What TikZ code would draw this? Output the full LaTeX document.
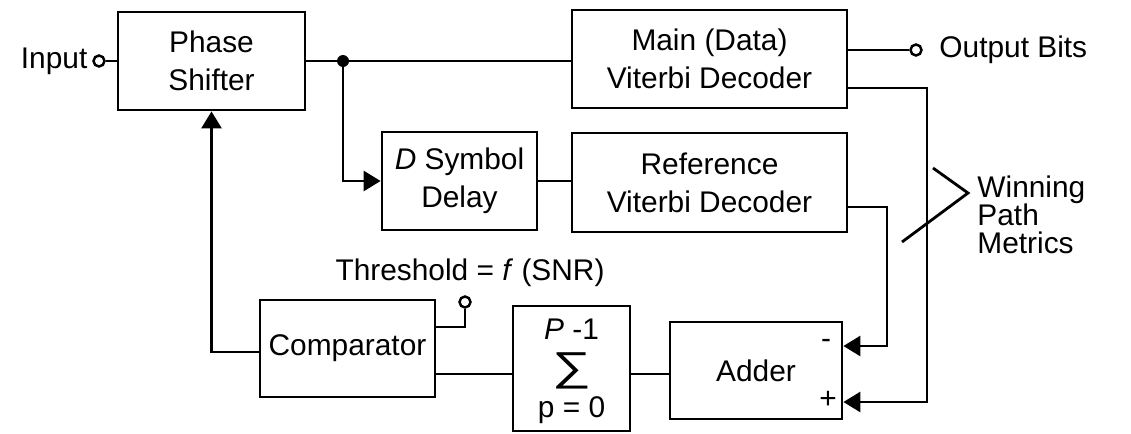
\documentclass[tikz,border=0pt]{standalone}
\usepackage{fontspec}
\usepackage{graphicx}
\setmainfont{Liberation Sans}
\usetikzlibrary{arrows.meta}

\begin{document}
\begin{tikzpicture}[
        % one unit is one pixel of the drawing, y grows downwards
        x=0.02cm, y=-0.02cm,
        line width=1.6pt,
        every node/.style={font=\fontsize{17}{21.5}\selectfont},
        block/.style={draw, align=center, inner sep=0pt},
        port/.style={draw, circle, fill=white, inner sep=0pt, minimum size=0.22cm, line width=1.4pt},
        dot/.style={circle, fill=black, inner sep=0pt, minimum size=0.24cm},
        feed/.style={-{Triangle[length=0.34cm, width=0.4cm]}}
    ]
    \useasboundingbox (0,0) rectangle (1131,433);

    % Processing blocks
    \node[block, minimum width=3.74cm, minimum height=1.96cm] (shifter) at (211.5,61) {Phase\\Shifter};
    \node[block, minimum width=5.5cm, minimum height=1.96cm] (maindec) at (709.5,59) {Main (Data)\\Viterbi Decoder};
    \node[block, minimum width=3.1cm, minimum height=1.96cm] (delay) at (459.5,181) {\textit{D} Symbol\\Delay};
    \node[block, minimum width=5.5cm, minimum height=1.98cm] (refdec) at (709.5,182.5) {Reference\\Viterbi Decoder};
    \node[block, minimum width=3.5cm, minimum height=1.94cm] (comp) at (347.5,348.5) {Comparator};
    \node[block, minimum width=2.34cm, minimum height=2.5cm] (sum) at (571.5,368.5) {};
    \node[block, minimum width=3.44cm, minimum height=1.94cm] (adder) at (756,370.5) {Adder};

    % Summation inside its box
    \node (sumtop) at (571.5,329) {\textit{P} -1};
    \node[font=\fontsize{23}{23}\selectfont] (sigma) at (571.5,371) {\scalebox{1.35}[1]{∑}};
    \node (sumbot) at (571.5,410) {p = 0};

    % Adder input signs
    \node (minus) at (826,344) {-};
    \node (plus) at (828,400) {+};

    % Terminals
    \node[port] (inport) at (99,61) {};
    \node[anchor=east, inner sep=2pt] (inlabel) at (inport.west) {Input};
    \node[port] (outport) at (916,50) {};
    \node[anchor=west, inner sep=0pt] (outlabel) at (938,50) {Output Bits};
    \node[port] (thresh) at (465,302) {};
    \node (threshlabel) at (470,273) {Threshold = \textit{f} (SNR)};

    % Routing points
    \node[dot] (tap) at (343,61) {};
    \coordinate (mainbus) at (927,88);
    \coordinate (refbus) at (887,207);
    \coordinate (minusrow) at (887,346);
    \coordinate (plusrow) at (927,402);
    \coordinate (threshrow) at (465,327);
    \coordinate (sumrow) at (571.5,374);
    \coordinate (backrow) at (211.5,352);

    % Forward path
    \draw (inport) -- (shifter.west);
    \draw (shifter.east) -- (shifter.east -| maindec.west);
    \draw[feed] (tap.center) |- (delay.west);
    \draw (delay.east) -- (delay.east -| refdec.west);
    \draw (maindec.east |- outport) -- (outport);

    % Path metrics into the adder
    \draw[feed] (mainbus -| maindec.east) -- (mainbus) |- (adder.east |- plusrow);
    \draw[feed] (refbus -| refdec.east) -- (refbus) |- (adder.east |- minusrow);

    % Decision loop
    \draw (comp.east |- sumrow) -- (sum.west |- sumrow);
    \draw (sum.east |- sumrow) -- (adder.west |- sumrow);
    \draw (thresh) -- (threshrow) -- (threshrow -| comp.east);
    \draw[feed] (comp.west |- backrow) -| (shifter.south);

    % Bus marker for the winning path metrics
    \draw (933,168) -- (968,193) -- (902,242);
    \node[anchor=west, align=left, inner sep=0pt, font=\fontsize{17}{16}\selectfont] (metrics) at (976,215) {Winning\\Path\\Metrics};
\end{tikzpicture}
\end{document}
